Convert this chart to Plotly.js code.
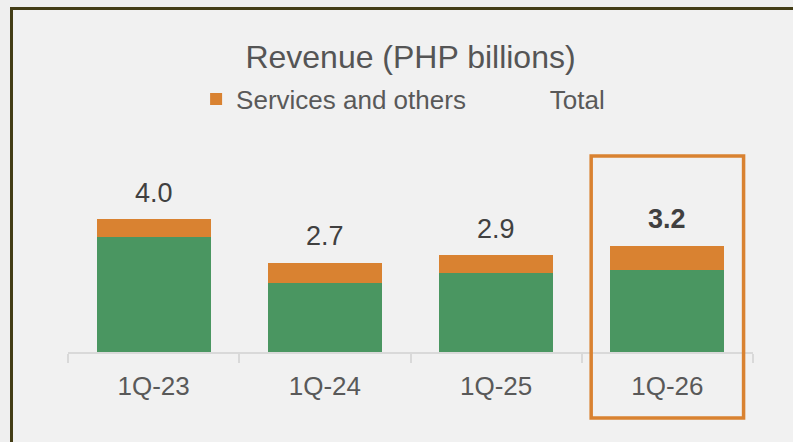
<!DOCTYPE html>
<html>
<head>
<meta charset="utf-8">
<script src="https://cdn.plot.ly/plotly-3.0.1.min.js"></script>
<style>
  html, body { margin: 0; padding: 0; background: #efefef; }
  #wrap { position: relative; width: 793px; height: 442px; overflow: hidden; background: #efefef; }
  #frame { position: absolute; left: 10px; top: 7px; width: 800px; height: 460px;
           border-left: 3px solid #433d16; border-top: 3px solid #433d16; background: #f1f1f1; }
  #chart { position: absolute; left: 0; top: 0; width: 793px; height: 442px; }
</style>
</head>
<body>
<div id="wrap">
  <div id="frame"></div>
  <div id="chart"></div>
</div>
<script>
// ---- data (PHP billions) ----
const categories = ["1Q-23", "1Q-24", "1Q-25", "1Q-26"];
const coreRevenue = [3.46, 2.08, 2.38, 2.47];
const servicesOthers = [0.54, 0.60, 0.54, 0.72];
const totals = [4.0, 2.7, 2.9, 3.2];
const totalLabels = ["4.0", "2.7", "2.9", "<b>3.2</b>"];
const highlightCategory = "1Q-26";

const GREEN = "#4a9661";
const ORANGE = "#d98231";
const FONT = "Liberation Sans, Arial, sans-serif";

const traces = [
  {
    type: "bar", name: "Core revenue", x: categories, y: coreRevenue,
    marker: { color: GREEN }, showlegend: false, hoverinfo: "skip"
  },
  {
    type: "bar", name: "Services and others", x: categories, y: servicesOthers,
    marker: { color: ORANGE }, hoverinfo: "skip", legend: "legend"
  },
  {
    type: "scatter", mode: "lines", name: "Total", x: categories, y: totals,
    line: { color: "rgba(0,0,0,0)", width: 0 }, hoverinfo: "skip", legend: "legend2"
  }
];

const annotations = categories.map((c, i) => ({
  x: c, y: totals[i], xref: "x", yref: "y",
  text: totalLabels[i], showarrow: false,
  yanchor: "bottom", yshift: 9,
  font: { family: FONT, size: 27, color: "#404040" }
}));

const hi = categories.indexOf(highlightCategory);

const legendBase = {
  orientation: "h", xanchor: "left", y: 1.265, yanchor: "middle",
  font: { family: FONT, size: 26, color: "#595959" },
  bgcolor: "rgba(0,0,0,0)"
};

const layout = {
  width: 793, height: 442,
  paper_bgcolor: "rgba(0,0,0,0)", plot_bgcolor: "rgba(0,0,0,0)",
  margin: { l: 68, r: 40, t: 152, b: 90 },
  barmode: "stack", bargap: 0.333,
  font: { family: FONT, color: "#595959" },
  title: {
    text: "Revenue (PHP billions)",
    font: { family: FONT, size: 32, color: "#555555" },
    x: 0.5, xref: "paper", xanchor: "center",
    y: 1 - 57 / 442, yref: "container", yanchor: "middle"
  },
  showlegend: true,
  legend: Object.assign({}, legendBase, { x: 0.187 }),
  legend2: Object.assign({}, legendBase, { x: 0.645 }),
  xaxis: {
    type: "category", range: [-0.5, 3.5], fixedrange: true,
    showline: true, linecolor: "#d9d9d9", linewidth: 2,
    ticks: "outside", tickson: "boundaries", ticklen: 9, tickwidth: 2, tickcolor: "#d9d9d9",
    tickfont: { family: FONT, size: 26, color: "#595959" }, ticklabelstandoff: 10,
    showgrid: false, zeroline: false
  },
  yaxis: {
    range: [0, 6], visible: false, showgrid: false, zeroline: false, fixedrange: true
  },
  annotations: annotations,
  shapes: [{
    type: "rect", xref: "x", yref: "paper",
    x0: hi - 0.445, x1: hi + 0.445, y0: -0.33, y1: 0.98,
    line: { color: ORANGE, width: 3.5 }, fillcolor: "rgba(0,0,0,0)", layer: "above"
  }]
};

Plotly.newPlot("chart", traces, layout, { displayModeBar: false, staticPlot: true });
</script>
</body>
</html>
